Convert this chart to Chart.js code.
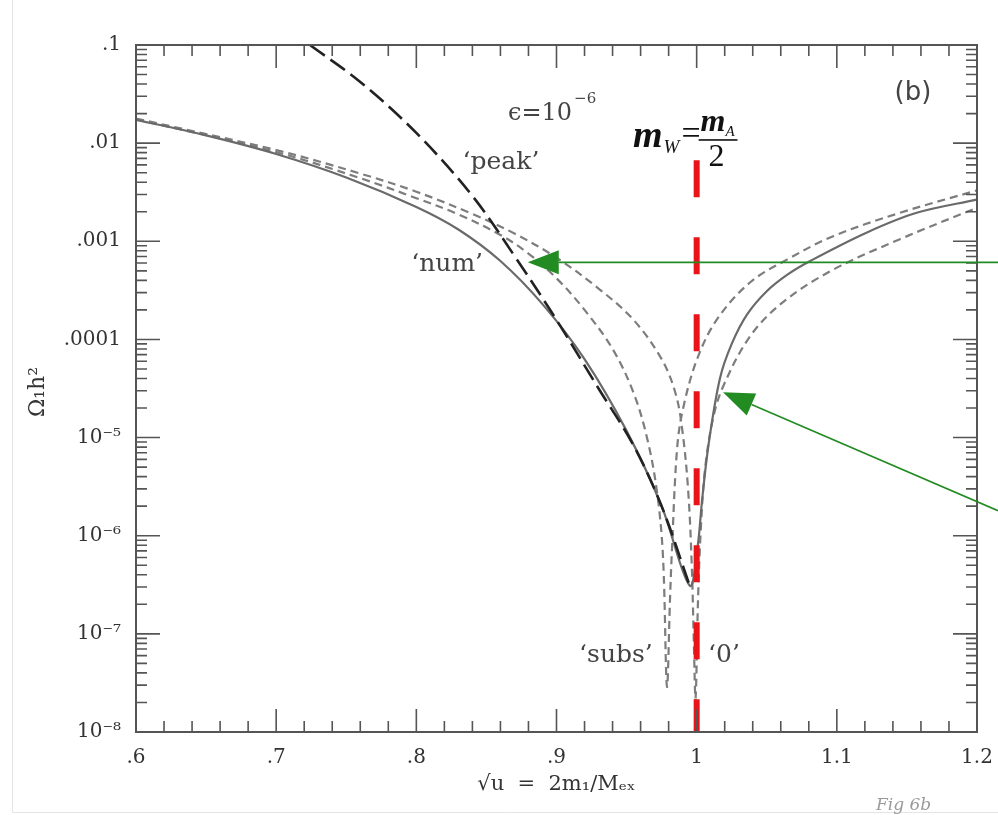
<!DOCTYPE html>
<html>
<head>
<meta charset="utf-8">
<script src="https://cdn.jsdelivr.net/npm/chart.js@4.4.1/dist/chart.umd.min.js"></script>
<style>
  html, body { margin: 0; padding: 0; background: #fff; }
  #wrap { width: 998px; height: 815px; position: relative; }
</style>
</head>
<body>
<div id="wrap"><canvas id="omega"></canvas></div>
<script>
/* ---- data (x = sqrt(u), y = Omega h^2) ---- */
const numX  = [0.6, 0.65, 0.7, 0.75, 0.8, 0.83, 0.86, 0.89, 0.92, 0.95, 0.975, 0.995, 1.0005, 1.004, 1.0085, 1.0166, 1.025, 1.036, 1.05, 1.065, 1.081, 1.1215, 1.157, 1.2];
const numY  = [0.0173, 0.0120, 0.00776, 0.00447, 0.00224, 0.00132, 6.3e-4, 2.29e-4, 6.3e-5, 1.17e-5, 2.0e-6, 3.1e-7, 7.4e-7, 2.4e-6, 8.5e-6, 4e-5, 9.0e-5, 1.8e-4, 3.1e-4, 4.6e-4, 6.3e-4, 1.23e-3, 1.95e-3, 2.66e-3];

const peakX = [0.7241, 0.76, 0.8, 0.84, 0.87, 0.9, 0.93, 0.955, 0.975, 0.995];
const peakY = [0.1, 0.042, 0.0127, 0.0029, 7.1e-4, 1.58e-4, 3.16e-5, 8.3e-6, 2.0e-6, 3.1e-7];

const subsX = [0.6, 0.7, 0.76, 0.8, 0.83, 0.86, 0.88, 0.9, 0.92, 0.94, 0.955, 0.965, 0.972, 0.976, 0.9788, 0.981, 0.9824, 0.986, 0.9902, 1.0003, 1.0145, 1.038, 1.0644, 1.097, 1.145, 1.2];
const subsY = [0.0175, 0.0081, 0.0044, 0.00275, 0.00188, 0.00116, 7.5e-4, 4.2e-4, 2.0e-4, 8.0e-5, 2.85e-5, 9.4e-6, 2.6e-6, 6.0e-7, 2.9e-8, 2.3e-7, 7.4e-7, 7.6e-6, 1.95e-5, 6.3e-5, 1.6e-4, 3.8e-4, 6.5e-4, 1.12e-3, 1.95e-3, 3.3e-3];

const zeroX = [0.6, 0.7, 0.76, 0.8, 0.84, 0.87, 0.9, 0.93, 0.955, 0.975, 0.985, 0.99, 0.994, 0.9965, 0.998, 0.9992, 1.001, 1.003, 1.006, 1.0116, 1.0188, 1.038, 1.0616, 1.097, 1.145, 1.2];
const zeroY = [0.0178, 0.0085, 0.0049, 0.0032, 0.0019, 0.0012, 6.8e-4, 3.3e-4, 1.58e-4, 6.3e-5, 2.8e-5, 1.12e-5, 2.8e-6, 5.0e-7, 8e-8, 2.2e-8, 2.3e-7, 1.2e-6, 4.8e-6, 1.55e-5, 3.3e-5, 1.07e-4, 2.4e-4, 5.1e-4, 1.05e-3, 2.2e-3];

// m_W = m_A/2 marker
const resonanceX = [1, 1];
const resonanceY = [0.0067, 1e-8];

const xTickLabels = ['.6', '.7', '.8', '.9', '1', '1.1', '1.2'];
const yTickLabels = ['10⁻⁸', '10⁻⁷', '10⁻⁶', '10⁻⁵', '.0001', '.001', '.01', '.1'];

// green arrows: [tailX, tailY, tipX, tipY]
const arrowNum  = [1.215, 6.1e-4, 0.8795, 6.1e-4];
const arrowRise = [1.215, 1.8e-6, 1.0188, 2.9e-5];

function pts(xs, ys) { return xs.map((x, i) => ({ x: x, y: ys[i] })); }

const serif = "'DejaVu Serif', serif";

/* ---- frame with inward ticks on all four sides, labels, arrows ---- */
const decor = {
  id: 'decor',
  afterDatasetsDraw(chart) {
    const ctx = chart.ctx, a = chart.chartArea;
    const xs = chart.scales.x, ys = chart.scales.y;
    ctx.save();
    ctx.strokeStyle = '#555';
    ctx.lineWidth = 2;
    ctx.strokeRect(a.left, a.top, a.right - a.left, a.bottom - a.top);
    ctx.lineWidth = 1.6;
    ctx.beginPath();
    for (let k = 0; k <= 30; k++) {
      const v = 0.6 + k * 0.02;
      const px = xs.getPixelForValue(v);
      const len = (k % 5 === 0) ? 23 : 11;
      ctx.moveTo(px, a.bottom); ctx.lineTo(px, a.bottom - len);
      ctx.moveTo(px, a.top); ctx.lineTo(px, a.top + len);
    }
    for (let e = -8; e <= -1; e++) {
      for (let m = 1; m <= 9; m++) {
        if (e === -1 && m > 1) break;
        const py = ys.getPixelForValue(m * Math.pow(10, e));
        const len = (m === 1) ? 24 : 11;
        ctx.moveTo(a.left, py); ctx.lineTo(a.left + len, py);
        ctx.moveTo(a.right, py); ctx.lineTo(a.right - len, py);
      }
    }
    ctx.stroke();

    // y axis title, rotated
    ctx.fillStyle = '#333';
    ctx.save();
    ctx.translate(38, 392);
    ctx.rotate(-Math.PI / 2);
    ctx.textAlign = 'center';
    ctx.textBaseline = 'middle';
    ctx.font = '22px ' + serif;
    ctx.fillText('\u03A9\u2081h\u00B2', 0, 0);
    ctx.restore();

    // text labels
    ctx.fillStyle = '#444';
    ctx.textBaseline = 'middle';
    ctx.textAlign = 'center';
    ctx.font = '25px ' + serif;
    ctx.fillText('\u2018peak\u2019', xs.getPixelForValue(0.8604), ys.getPixelForValue(0.0063));
    ctx.fillText('\u2018num\u2019', xs.getPixelForValue(0.822), ys.getPixelForValue(5.8e-4));
    ctx.fillText('\u2018subs\u2019', xs.getPixelForValue(0.9424), ys.getPixelForValue(6.0e-8));
    ctx.fillText('\u20180\u2019', xs.getPixelForValue(1.0195), ys.getPixelForValue(6.0e-8));
    ctx.font = '26px "DejaVu Sans", sans-serif';
    ctx.fillText('(b)', xs.getPixelForValue(1.1543), ys.getPixelForValue(0.032));

    // epsilon = 10^-6
    ctx.textAlign = 'left';
    ctx.textBaseline = 'alphabetic';
    ctx.font = '24px ' + serif;
    const ex = xs.getPixelForValue(0.8654), ey = ys.getPixelForValue(0.0173);
    ctx.fillText('\u03f5=10', ex, ey);
    const ew = ctx.measureText('\u03f5=10').width;
    ctx.font = '15px ' + serif;
    ctx.fillText('\u22126', ex + ew + 2, ey - 17);

    // m_W = m_A / 2
    ctx.fillStyle = '#111';
    const mx = xs.getPixelForValue(0.9546), my = ys.getPixelForValue(0.0091);
    ctx.font = 'bold italic 38px "Liberation Serif", serif';
    ctx.fillText('m', mx, my);
    const w = ctx.measureText('m').width;
    ctx.font = 'italic 19px "Liberation Serif", serif';
    ctx.fillText('W', mx + w + 1, my + 6);
    ctx.font = '34px "Liberation Serif", serif';
    ctx.fillText('=', mx + w + 19, my - 3);
    const fx = mx + w + 38;
    ctx.font = 'bold italic 32px "Liberation Serif", serif';
    ctx.fillText('m', fx, my - 16);
    const fw = ctx.measureText('m').width;
    ctx.font = 'italic 15px "Liberation Serif", serif';
    ctx.fillText('A', fx + fw, my - 11);
    ctx.fillRect(fx - 2, my - 8, fw + 14, 1.6);
    ctx.font = '32px "Liberation Serif", serif';
    ctx.fillText('2', fx + 8, my + 19);

    // green arrows
    [arrowNum, arrowRise].forEach(ar => {
      const x0 = xs.getPixelForValue(ar[0]), y0 = ys.getPixelForValue(ar[1]);
      const x1 = xs.getPixelForValue(ar[2]), y1 = ys.getPixelForValue(ar[3]);
      const ang = Math.atan2(y1 - y0, x1 - x0);
      const hl = 31, hw = 12;
      const bx = x1 - hl * Math.cos(ang), by = y1 - hl * Math.sin(ang);
      ctx.strokeStyle = '#228b22';
      ctx.fillStyle = '#228b22';
      ctx.lineWidth = 1.6;
      ctx.beginPath(); ctx.moveTo(x0, y0); ctx.lineTo(bx, by); ctx.stroke();
      ctx.beginPath();
      ctx.moveTo(x1, y1);
      ctx.lineTo(bx + hw * Math.sin(ang), by - hw * Math.cos(ang));
      ctx.lineTo(bx - hw * Math.sin(ang), by + hw * Math.cos(ang));
      ctx.closePath(); ctx.fill();
    });

    // faint scan border and handwritten note
    ctx.strokeStyle = '#e4e4e4';
    ctx.lineWidth = 1;
    ctx.beginPath(); ctx.moveTo(12.5, 0); ctx.lineTo(12.5, 812.5); ctx.lineTo(998, 812.5); ctx.stroke();
    ctx.fillStyle = '#9a9a9a';
    ctx.font = 'italic 17px "DejaVu Serif", serif';
    ctx.fillText('Fig 6b', 876, 810);
    ctx.restore();
  }
};

new Chart(document.getElementById('omega'), {
  type: 'line',
  data: {
    datasets: [
      { label: 'mW = mA/2', data: pts(resonanceX, resonanceY), borderColor: '#e8141a', borderWidth: 6, borderDash: [37, 40], pointRadius: 0, tension: 0 },
      { label: 'peak', data: pts(peakX, peakY), borderColor: '#222', borderWidth: 2.6, borderDash: [18, 7], pointRadius: 0, tension: 0.35 },
      { label: 'num', data: pts(numX, numY), borderColor: '#6a6a6a', borderWidth: 2.2, pointRadius: 0, tension: 0.35 },
      { label: 'subs', data: pts(subsX, subsY), borderColor: '#7d7d7d', borderWidth: 2.2, borderDash: [8, 5], pointRadius: 0, tension: 0.35 },
      { label: '0', data: pts(zeroX, zeroY), borderColor: '#7d7d7d', borderWidth: 2.2, borderDash: [8, 5], pointRadius: 0, tension: 0.35 }
    ]
  },
  options: {
    responsive: true,
    maintainAspectRatio: false,
    animation: false,
    layout: { padding: { top: 45, right: 21, left: 0, bottom: 0 } },
    plugins: { legend: { display: false }, tooltip: { enabled: false } },
    scales: {
      x: {
        type: 'linear', min: 0.6, max: 1.2,
        grid: { display: false, drawTicks: false },
        border: { display: false },
        afterFit(scale) { scale.height = 83; scale.paddingLeft = 0; scale.paddingRight = 0; },
        ticks: {
          stepSize: 0.1, padding: 14, color: '#333',
          font: { family: 'DejaVu Serif', size: 20 },
          callback: (v, i) => xTickLabels[i]
        },
        title: {
          display: true, text: '\u221Au  =  2m\u2081/M\u2091\u2093', color: '#333',
          font: { family: 'DejaVu Serif', size: 21 }, padding: { top: 0, bottom: 18 }
        }
      },
      y: {
        type: 'logarithmic', min: 1e-8, max: 0.1,
        grid: { display: false, drawTicks: false },
        border: { display: false },
        afterFit(scale) { scale.width = 136; scale.paddingTop = 0; scale.paddingBottom = 0; },
        ticks: {
          autoSkip: false, padding: 15, color: '#333',
          font: { family: 'DejaVu Serif', size: 20 },
          callback: function (v) {
            const e = Math.round(Math.log10(v));
            if (Math.abs(v / Math.pow(10, e) - 1) > 1e-6) return '';
            return yTickLabels[e + 8];
          }
        }
      }
    }
  },
  plugins: [decor]
});
</script>
</body>
</html>
